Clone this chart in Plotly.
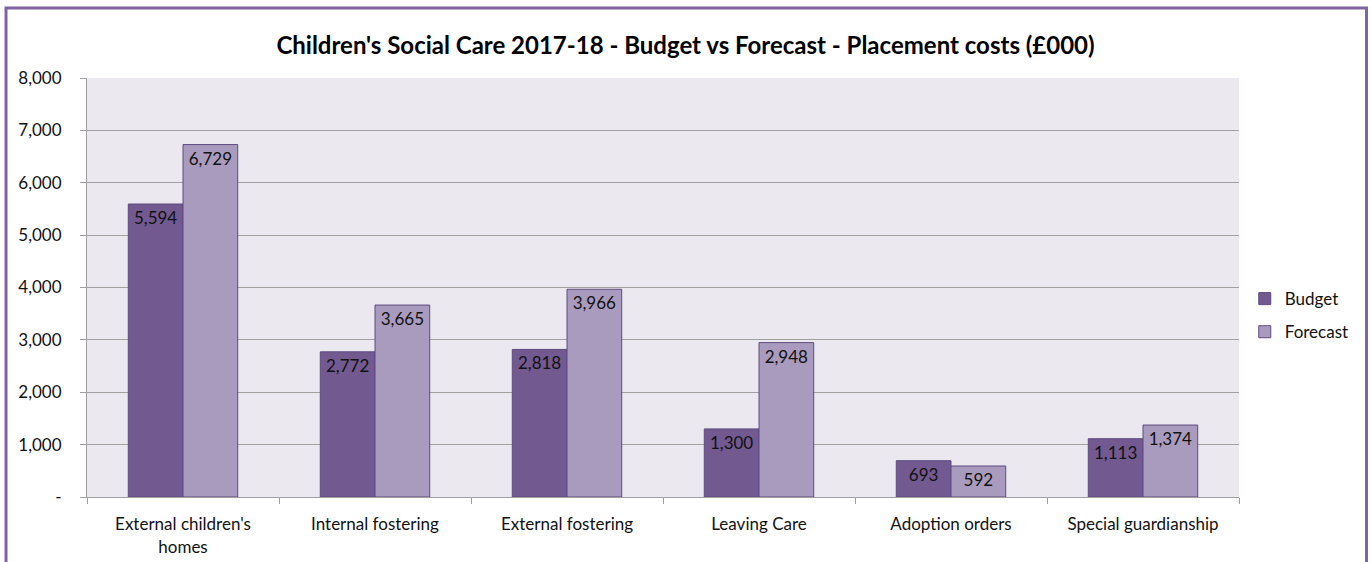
import plotly.graph_objects as go

categories = ["External children's<br>homes", "Internal fostering", "External fostering",
              "Leaving Care", "Adoption orders", "Special guardianship"]
budget = [5594, 2772, 2818, 1300, 693, 1113]
forecast = [6729, 3665, 3966, 2948, 592, 1374]
y_ticks = [0, 1000, 2000, 3000, 4000, 5000, 6000, 7000, 8000]
y_tick_labels = ["-", "1,000", "2,000", "3,000", "4,000", "5,000", "6,000", "7,000", "8,000"]

FONT = "Lato, Open Sans, sans-serif"
FS = 17

fig = go.Figure()
fig.add_trace(go.Bar(
    name="Budget", x=categories, y=budget, legendgroup="b",
    marker=dict(color="#725990", line=dict(color="#5E4A80", width=1)),
    text=[f"{v:,}" for v in budget], textposition="inside", insidetextanchor="end",
    textfont=dict(color="#111111", size=FS, family=FONT), constraintext="none",
    textangle=0,
))
fig.add_trace(go.Bar(
    name="Forecast", x=categories, y=forecast, legendgroup="f",
    marker=dict(color="#A99BBD", line=dict(color="#5E4A80", width=1)),
    text=[f"{v:,}" for v in forecast], textposition="inside", insidetextanchor="end",
    textfont=dict(color="#111111", size=FS, family=FONT), constraintext="none",
    textangle=0,
))

fig.update_layout(
    width=1371, height=562,
    margin=dict(l=87, r=132, t=78, b=65),
    paper_bgcolor="white", plot_bgcolor="#EBE9EF",
    barmode="group", bargap=0.43, bargroupgap=0,
    font=dict(family=FONT, size=FS, color="#111111"),
    title=dict(text="<b>Children's Social Care 2017-18 - Budget vs Forecast - Placement costs (£000)</b>",
               x=0.5, xanchor="center", xref="container", y=1 - 46 / 562, yanchor="middle",
               yref="container", font=dict(size=24, family=FONT, color="#000000")),
    legend=dict(x=1.005, xanchor="left", y=0.433, yanchor="middle",
                font=dict(size=FS, family=FONT), tracegroupgap=8, bgcolor="rgba(0,0,0,0)"),
    showlegend=True,
    shapes=[dict(type="rect", xref="paper", yref="paper",
                 x0=-0.0703, x1=1.1107, y0=-0.18, y1=1.167,
                 line=dict(color="#8064A2", width=3), fillcolor="rgba(0,0,0,0)", layer="above")],
)
fig.update_xaxes(
    showline=True, linecolor="#A0A0A0", linewidth=1, ticks="outside", tickson="boundaries",
    ticklen=6, tickcolor="#A0A0A0", showgrid=False, tickfont=dict(size=FS),
    ticklabelstandoff=12, automargin=False,
)
fig.update_yaxes(
    range=[0, 8000], tickvals=y_ticks, ticktext=y_tick_labels,
    showline=True, linecolor="#A0A0A0", linewidth=1, ticks="outside", ticklen=6,
    tickcolor="#A0A0A0", showgrid=True, gridcolor="#A0A0A0", gridwidth=1,
    zeroline=False, tickfont=dict(size=FS), ticklabelstandoff=15, automargin=False,
)

fig.write_html("out.html")
